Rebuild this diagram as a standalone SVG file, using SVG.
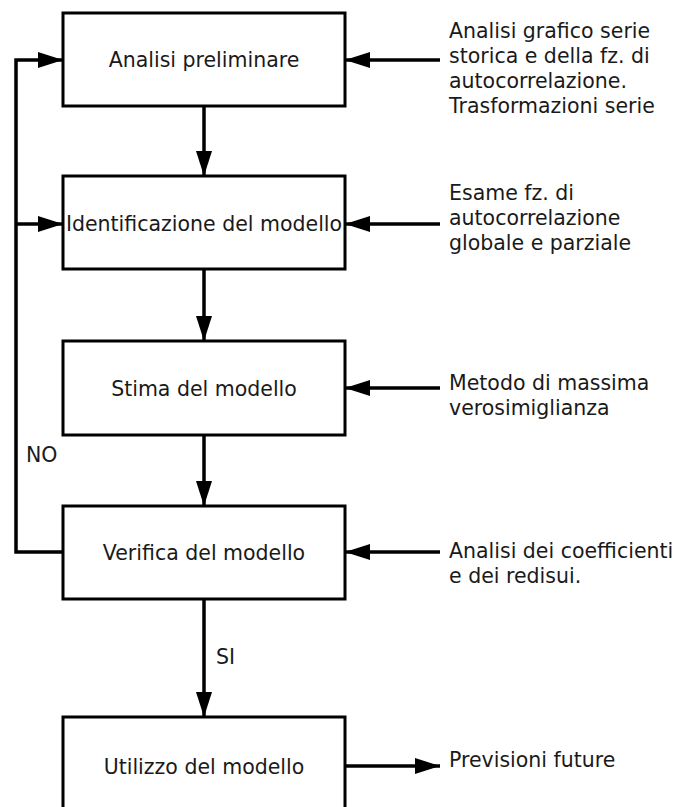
<svg xmlns="http://www.w3.org/2000/svg" width="678" height="807" viewBox="0 0 678 807">
<defs>
<style>
.box{fill:#fff;stroke:#000;stroke-width:3}
.ln{fill:none;stroke:#000;stroke-width:3.5}
text{font-family:"DejaVu Sans","Liberation Sans",sans-serif;font-size:20.5px;fill:#1a1a1a}
.c{text-anchor:middle}
</style>
<marker id="ah" viewBox="0 0 25 16" refX="25" refY="8" markerWidth="25" markerHeight="16" markerUnits="userSpaceOnUse" orient="auto">
<path d="M0,0 L25,8 L0,16 Z" fill="#000"/>
</marker>
</defs>
<rect width="678" height="807" fill="#fff"/>
<g id="connectors">
<line class="ln" x1="204" y1="106" x2="204" y2="176" marker-end="url(#ah)"/>
<line class="ln" x1="204" y1="269" x2="204" y2="341" marker-end="url(#ah)"/>
<line class="ln" x1="204" y1="435" x2="204" y2="506" marker-end="url(#ah)"/>
<line class="ln" x1="204" y1="599" x2="204" y2="717" marker-end="url(#ah)"/>
<polyline class="ln" points="63,552 16,552 16,60 63,60" marker-end="url(#ah)"/>
<line class="ln" x1="16" y1="224" x2="63" y2="224" marker-end="url(#ah)"/>
<line class="ln" x1="440" y1="60" x2="345" y2="60" marker-end="url(#ah)"/>
<line class="ln" x1="440" y1="224" x2="345" y2="224" marker-end="url(#ah)"/>
<line class="ln" x1="440" y1="388" x2="345" y2="388" marker-end="url(#ah)"/>
<line class="ln" x1="440" y1="552" x2="345" y2="552" marker-end="url(#ah)"/>
<line class="ln" x1="345" y1="766" x2="440" y2="766" marker-end="url(#ah)"/>
<text x="26" y="462">NO</text>
<text x="216" y="664">SI</text>
</g>
<g id="n1"><rect class="box" x="63" y="13" width="282" height="93"/><text class="c" x="204" y="67">Analisi preliminare</text></g>
<g id="n2"><rect class="box" x="63" y="176" width="282" height="93"/><text class="c" x="204" y="231">Identificazione del modello</text></g>
<g id="n3"><rect class="box" x="63" y="341" width="282" height="94"/><text class="c" x="204" y="396">Stima del modello</text></g>
<g id="n4"><rect class="box" x="63" y="506" width="282" height="93"/><text class="c" x="204" y="560">Verifica del modello</text></g>
<g id="n5"><rect class="box" x="63" y="717" width="282" height="100"/><text class="c" x="204" y="774">Utilizzo del modello</text></g>
<g id="t1"><text x="449" y="38">Analisi grafico serie</text><text x="449" y="63">storica e della fz. di</text><text x="449" y="88">autocorrelazione.</text><text x="449" y="113">Trasformazioni serie</text></g>
<g id="t2"><text x="449" y="200">Esame fz. di</text><text x="449" y="225">autocorrelazione</text><text x="449" y="250">globale e parziale</text></g>
<g id="t3"><text x="449" y="390">Metodo di massima</text><text x="449" y="415">verosimiglianza</text></g>
<g id="t4"><text x="449" y="558">Analisi dei coefficienti</text><text x="449" y="583">e dei redisui.</text></g>
<g id="t5"><text x="449" y="767">Previsioni future</text></g>
</svg>
